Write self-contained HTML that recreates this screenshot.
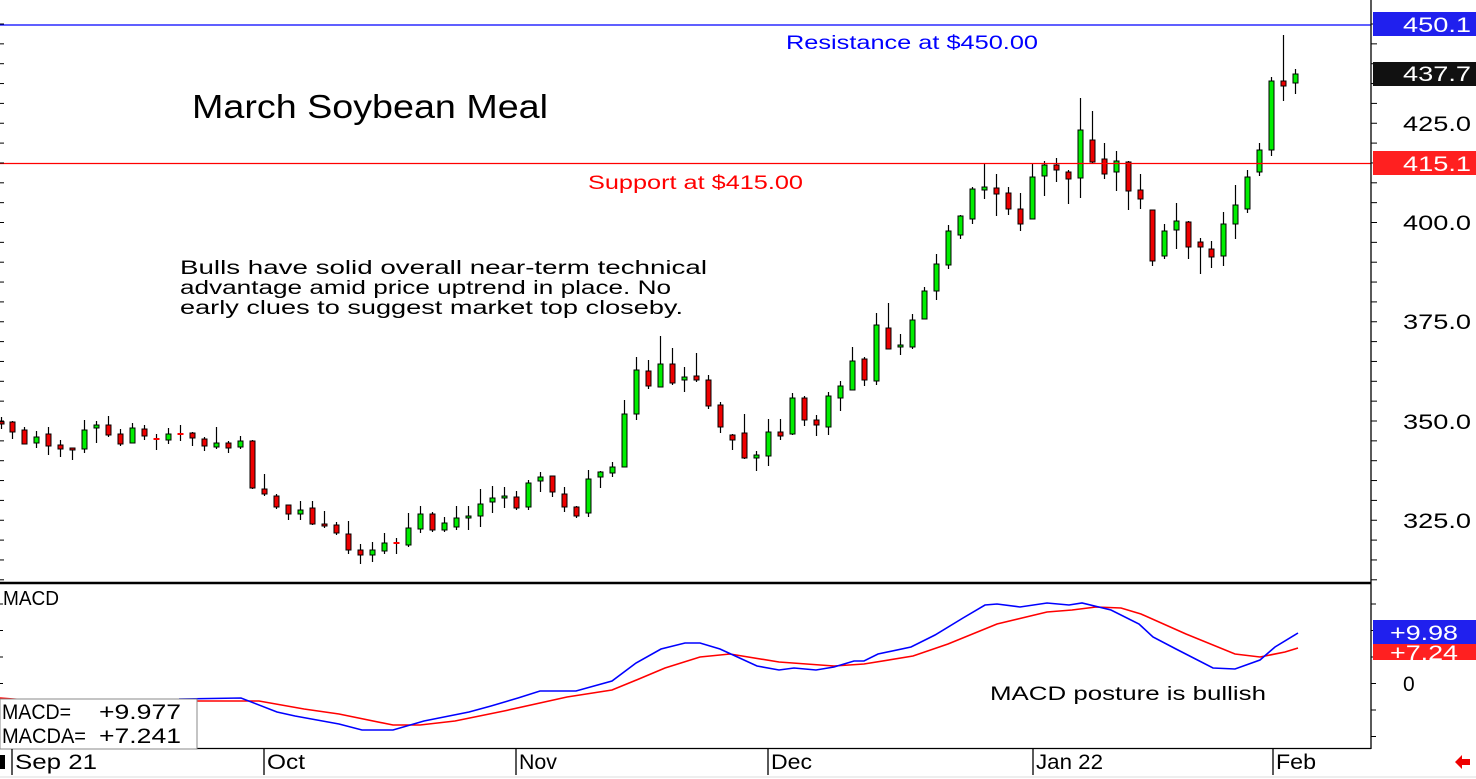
<!DOCTYPE html>
<html><head><meta charset="utf-8"><style>
html,body{margin:0;padding:0;background:#fff;}
svg{display:block;}
text{font-family:"Liberation Sans",sans-serif;}
</style></head><body>
<svg id="s" width="1476" height="779" viewBox="0 0 1476 779" xmlns="http://www.w3.org/2000/svg">
<rect width="1476" height="779" fill="#fff"/>
<g id="cands"></g>
<line x1="0" y1="25" x2="1371" y2="25" stroke="#0000ff" stroke-width="1.3"/>
<line x1="0" y1="163.5" x2="1371" y2="163.5" stroke="#ff0000" stroke-width="1.3"/>
<line x1="0" y1="583" x2="1371" y2="583" stroke="#000" stroke-width="2.5"/>
<line x1="0" y1="748.5" x2="1371" y2="748.5" stroke="#000" stroke-width="1.3"/>
<line x1="1371" y1="0" x2="1371" y2="749" stroke="#000" stroke-width="1.3"/>
<g id="ticks" stroke="#000" stroke-width="1"></g>
<polyline fill="none" stroke="#ff0000" stroke-width="1.6" points="0,698 27,700 196,701 259,701 304,709 339,714 393,725 420,725 455,721 504,711 567,697 612,690 634,681 665,668 700,657 730,654 779,662 834,666 864,664 913,656 948,644 997,624 1047,612 1072,610 1096,607 1121,608 1141,614 1186,634 1235,654 1260,657 1285,652 1298,648"/>
<polyline fill="none" stroke="#0000ff" stroke-width="1.6" points="179,699 241,698 277,712 295,716 339,724 362,730 393,730 424,721 469,712 491,706 518,698 540,691 576,691 612,681 636,663 661,649 685,643 700,643 720,649 757,666 779,670 794,668 816,670 834,667 854,661 864,661 878,654 911,647 935,635 963,618 985,605 997,604 1020,607 1047,603 1069,605 1082,603 1111,610 1139,624 1153,637 1176,649 1213,668 1235,669 1260,660 1275,647 1298,633"/>
<text x="192" y="118" font-size="33" textLength="356" lengthAdjust="spacingAndGlyphs">March Soybean Meal</text>
<text x="786" y="49" font-size="19" fill="#0000ff" textLength="252" lengthAdjust="spacingAndGlyphs">Resistance at $450.00</text>
<text x="588" y="189" font-size="19" fill="#ff0000" textLength="215" lengthAdjust="spacingAndGlyphs">Support at $415.00</text>
<text x="180" y="274" font-size="19" textLength="527" lengthAdjust="spacingAndGlyphs">Bulls have solid overall near-term technical</text>
<text x="180" y="294" font-size="19" textLength="491" lengthAdjust="spacingAndGlyphs">advantage amid price uptrend in place. No</text>
<text x="180" y="314" font-size="19" textLength="503" lengthAdjust="spacingAndGlyphs">early clues to suggest market top closeby.</text>
<text x="3" y="605" font-size="20" textLength="56" lengthAdjust="spacingAndGlyphs">MACD</text>
<text x="990" y="700" font-size="19" textLength="276" lengthAdjust="spacingAndGlyphs">MACD posture is bullish</text>
<rect x="0" y="699" width="197" height="50" fill="#fff" stroke="#888" stroke-width="1"/>
<text x="2" y="719" font-size="21" textLength="69" lengthAdjust="spacingAndGlyphs">MACD=</text>
<text x="99" y="719" font-size="21" textLength="82" lengthAdjust="spacingAndGlyphs">+9.977</text>
<text x="2" y="743" font-size="21" textLength="84" lengthAdjust="spacingAndGlyphs">MACDA=</text>
<text x="99" y="743" font-size="21" textLength="82" lengthAdjust="spacingAndGlyphs">+7.241</text>
<rect x="1373" y="12" width="103" height="24" fill="#2020ee"/>
<text x="1403" y="32" font-size="21" fill="#fff" textLength="68" lengthAdjust="spacingAndGlyphs">450.1</text>
<rect x="1373" y="62" width="103" height="24" fill="#111"/>
<text x="1403" y="81" font-size="21" fill="#fff" textLength="68" lengthAdjust="spacingAndGlyphs">437.7</text>
<text x="1403" y="131" font-size="21" textLength="68" lengthAdjust="spacingAndGlyphs">425.0</text>
<rect x="1373" y="151" width="103" height="24" fill="#ff2020"/>
<text x="1403" y="171" font-size="21" fill="#fff" textLength="68" lengthAdjust="spacingAndGlyphs">415.1</text>
<text x="1403" y="230" font-size="21" textLength="68" lengthAdjust="spacingAndGlyphs">400.0</text>
<text x="1403" y="329" font-size="21" textLength="68" lengthAdjust="spacingAndGlyphs">375.0</text>
<text x="1403" y="429" font-size="21" textLength="68" lengthAdjust="spacingAndGlyphs">350.0</text>
<text x="1403" y="528" font-size="21" textLength="68" lengthAdjust="spacingAndGlyphs">325.0</text>
<rect x="1373" y="644" width="103" height="16" fill="#ff2020"/>
<text x="1390" y="660" font-size="21" fill="#fff" textLength="68" lengthAdjust="spacingAndGlyphs">+7.24</text>
<rect x="1373" y="620" width="103" height="24" fill="#2020ee"/>
<text x="1390" y="640" font-size="21" fill="#fff" textLength="68" lengthAdjust="spacingAndGlyphs">+9.98</text>
<text x="1403" y="691" font-size="21">0</text>
<g stroke="#000" stroke-width="1.3">
<line x1="12" y1="749" x2="12" y2="775"/><line x1="264" y1="749" x2="264" y2="775"/>
<line x1="516" y1="749" x2="516" y2="775"/><line x1="768" y1="749" x2="768" y2="775"/>
<line x1="1033" y1="749" x2="1033" y2="775"/><line x1="1273" y1="749" x2="1273" y2="775"/>
</g>
<rect x="0" y="755" width="5" height="14" fill="#000"/>
<text x="15" y="769" font-size="21" textLength="82" lengthAdjust="spacingAndGlyphs">Sep 21</text>
<text x="267" y="769" font-size="21" textLength="38" lengthAdjust="spacingAndGlyphs">Oct</text>
<text x="519" y="769" font-size="21" textLength="38" lengthAdjust="spacingAndGlyphs">Nov</text>
<text x="771" y="769" font-size="21" textLength="41" lengthAdjust="spacingAndGlyphs">Dec</text>
<text x="1036" y="769" font-size="21" textLength="67" lengthAdjust="spacingAndGlyphs">Jan 22</text>
<text x="1276" y="769" font-size="21" textLength="40" lengthAdjust="spacingAndGlyphs">Feb</text>
<polygon points="1455,762 1462,755 1462,759 1470,759 1470,765 1462,765 1462,769" fill="#ee0000"/>
<line x1="0" y1="777" x2="1476" y2="777" stroke="#ddd" stroke-width="1"/>
</svg>
<script>
var D=[
"r,421.7,424,417,429","r,422,432,421,439","r,430,444,427,444","g,437,443,431,448","r,434,446,427,455",
"r,445,449,440,457","r,448,450,448,460","g,430,449,420,453","g,425,428,421,443","r,425,435,416,437",
"r,434,444,429,446","g,428,443,423,443","r,429,436,425,440","d,439,439,434,450","g,434,440,428,444",
"d,434,434,425,441","r,433,438,432,446","r,439,446,437,451","g,443,447,427,449","r,443,448,441,453",
"g,441,447,436,449","r,441,488,440,489","r,489,494,474,496","r,496,507,494,509","r,505,514,505,520",
"g,510,514,501,520","r,508,524,501,525","r,524,526,511,528","r,525,533,522,535","r,534,550,521,554",
"r,550,555,544,564","g,550,555,542,562","g,543,551,533,554","d,543,543,538,554","g,528,545,513,547",
"g,514,529,506,533","r,514,530,512,532","g,523,530,517,532","g,518,527,506,530","g,516,518,506,530",
"g,504,516,489,527","g,498,502,486,513","g,496,498,487,508","r,497,508,491,510","g,483,507,480,510",
"g,477,481,472,492","r,476,492,476,497","r,494,507,487,512","r,507,516,506,518","g,479,513,470,517",
"g,472,477,471,488","g,467,473,462,477","g,414,467,400,467","g,370,414,357,420","r,371,386,360,389",
"g,364,387,336,387","r,364,383,348,385","g,377,380,367,392","r,376,380,353,382","r,380,406,375,409",
"r,405,427,402,433","r,435,440,434,450","r,433,458,414,459","g,455,458,451,471","g,432,456,419,466",
"r,432,436,419,440","g,398,434,393,435","r,398,420,396,426","r,420,425,415,436","g,396,427,392,435",
"g,386,398,381,411","g,361,390,347,390","r,359,380,357,386","g,325,381,313,385","r,328,349,303,349",
"g,345,347,334,355","g,320,347,314,349","g,291,319,287,319","g,264,291,254,300","g,231,265,225,269",
"g,216,235,215,239","g,189,219,187,224","g,187,190,164,199","r,188,194,174,216","r,193,209,187,215",
"r,209,224,193,231","g,177,219,164,219","g,165,176,161,196","r,165,170,158,182","r,172,179,170,204",
"g,130,178,98,198","r,140,162,111,163","r,159,174,143,179","g,161,172,151,191","r,162,191,161,210",
"r,190,199,174,209","r,210,261,210,266","g,231,256,224,259","g,221,230,203,249","r,222,247,221,259",
"r,242,247,238,274","r,249,257,241,268","g,224,256,212,266","g,205,224,185,239","g,177,209,170,213",
"g,150,172,143,176","g,81,150,77,156","r,81,86,35,101","g,74,83,69,94"];
var g=document.getElementById("cands"),h="";
D.forEach(function(s,i){var p=s.split(","),c=p[0],a=+p[1],b=+p[2],t=+p[3],l=+p[4];
var x=Math.round(0.5+11.99*i)+0.5;
h+='<line x1="'+x+'" y1="'+t+'" x2="'+x+'" y2="'+l+'" stroke="#000" stroke-width="1.2"/>';
if(c=="d"){h+='<rect x="'+(x-3)+'" y="'+(a-1)+'" width="6" height="2" fill="#f00"/>';}
else{h+='<rect x="'+(x-2.5)+'" y="'+a+'" width="5" height="'+Math.max(1,b-a)+'" fill="'+(c=="g"?"#00ee00":"#ee0000")+'" stroke="#000" stroke-width="1"/>';}
});
g.innerHTML=h;
var tk="";
for(var y=24;y<582;y+=19.85){tk+='<line x1="1371" y1="'+y+'" x2="1377" y2="'+y+'"/><line x1="0" y1="'+y+'" x2="4" y2="'+y+'"/>';}
for(var y=604;y<748;y+=26.5){tk+='<line x1="1371" y1="'+y+'" x2="1376" y2="'+y+'"/><line x1="0" y1="'+y+'" x2="3" y2="'+y+'"/>';}
document.getElementById("ticks").innerHTML=tk;
</script>
</body></html>
